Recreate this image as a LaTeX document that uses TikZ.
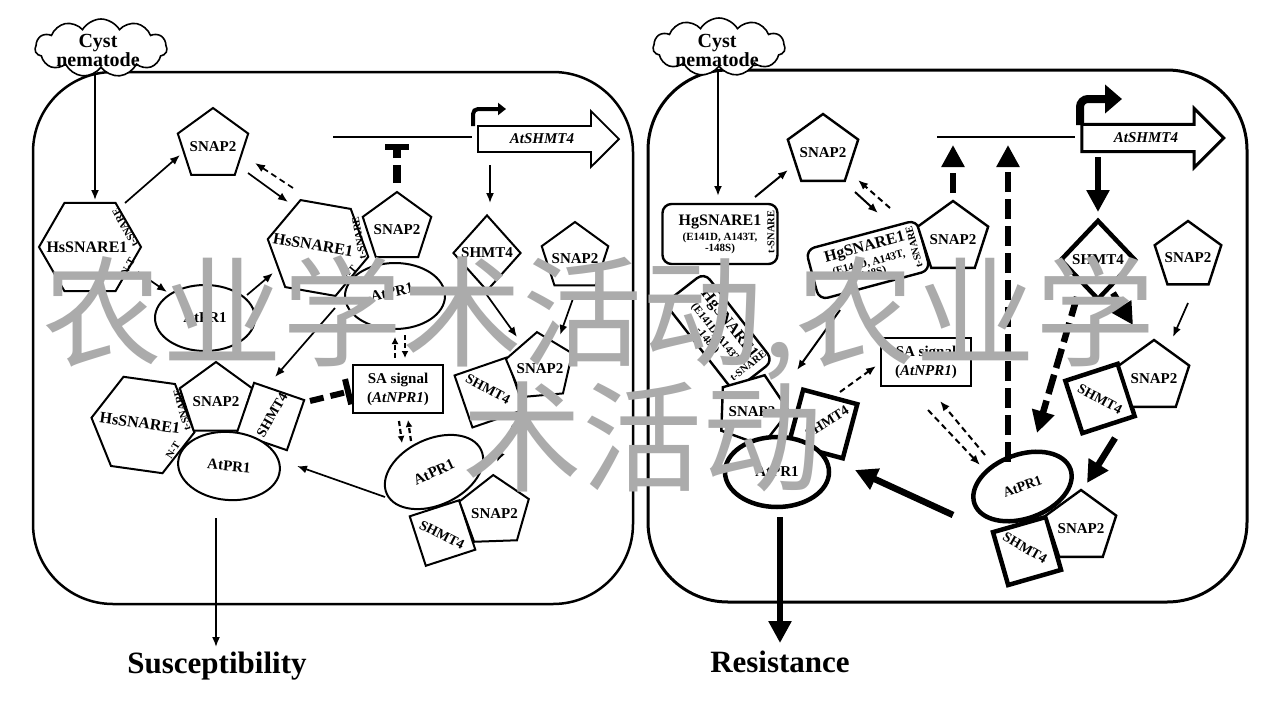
\documentclass[tikz,border=0pt]{standalone}
\usepackage{fontspec}
\setmainfont{Liberation Serif}
\newfontfamily\cjkfont{Noto Sans CJK SC}
\usetikzlibrary{shapes.geometric,shapes.symbols,shapes.arrows,arrows.meta}
\definecolor{wmgray}{HTML}{ABABAB}
\newcommand\fsnap{\fontsize{15}{15}\selectfont\bfseries}
\newcommand\fhs{\fontsize{16}{16}\selectfont\bfseries}
\newcommand\fsq{\fontsize{14}{14}\selectfont\bfseries}
\newcommand\ftag{\fontsize{10.5}{10.5}\selectfont\bfseries}
\newcommand\fmut{\fontsize{11}{11}\selectfont\bfseries}
\newcommand\fhg{\fontsize{16}{16}\selectfont\bfseries}
\newcommand\fsa{\fontsize{15}{19}\selectfont\bfseries}
\newcommand\fcloud{\fontsize{20}{19}\selectfont\bfseries}
\newcommand\fbig{\fontsize{31}{31}\selectfont\bfseries}
\newcommand\fwm{\fontsize{120}{120}\selectfont\cjkfont}
\newcommand\hgtext{{\fhg HgSNARE1}\\[3pt](E141D, A143T,\\-148S)}
\tikzset{
  cell/.style = {draw, rounded corners=80pt, line width=2.5pt},
  pathogen/.style = {cloud, cloud puffs=11, cloud puff arc=120, cloud ignores aspect, draw, fill=white, minimum width=132pt, minimum height=58pt, inner sep=0pt, line width=1.6pt},
  cloudtxt/.style = {inner sep=0pt, align=center, font=\fcloud},
  pent/.style = {regular polygon, regular polygon sides=5, draw, fill=white, minimum size=74pt, inner sep=0pt, label={[font=\fsnap, inner sep=0pt, yshift=-2pt]center:#1}},
  hexa/.style = {regular polygon, regular polygon sides=6, draw, fill=white, minimum size=102pt, inner sep=0pt},
  hstxt/.style = {inner sep=0pt, font=\fhs},
  prot/.style = {ellipse, draw, fill=white, minimum width=100pt, minimum height=66pt, inner sep=0pt, font=\fsnap},
  sqr/.style = {rectangle, draw, fill=white, minimum size=54pt, inner sep=0pt},
  sqtxt/.style = {inner sep=0pt, font=\fsq},
  dia/.style = {diamond, draw, fill=white, minimum width=68pt, minimum height=76pt, inner sep=0pt, font=\fsnap},
  hgbox/.style = {rectangle, rounded corners=9pt, draw, fill=white, minimum width=115pt, minimum height=60pt, inner sep=0pt, align=center, font=\fmut},
  sabox/.style = {rectangle, draw, fill=white, minimum width=90pt, minimum height=48pt, inner sep=0pt, line width=1.8pt, align=center, font=\fsa},
  gene/.style = {single arrow, draw, fill=white, single arrow head extend=15pt, single arrow tip angle=90, minimum height=141pt, inner xsep=0pt, inner ysep=7pt, line width=1.8pt, font=\fsnap},
  tag/.style = {inner sep=0pt, font=\ftag},
  outcome/.style = {inner sep=0pt, font=\fbig},
  heavy/.style = {line width=4.5pt},
  arr/.style = {-{Latex[length=10pt,width=8pt]}, line width=1.7pt},
  darr/.style = {arr, dash pattern=on 6pt off 4pt},
  sdarr/.style = {-{Latex[length=7pt,width=7pt]}, line width=2.2pt, dash pattern=on 5pt off 3pt},
  fat/.style = {-{Triangle[length=22pt,width=22pt]}, line width=6.5pt},
  fatdash/.style = {fat, dash pattern=on 20pt off 7pt},
  inhib/.style = {-{Bar[width=24pt,line width=6pt]}, line width=8pt, dash pattern=on 18pt off 7pt},
  inhibs/.style = {-{Bar[width=26pt,line width=6pt]}, line width=6pt, dash pattern=on 14pt off 7pt},
  watermark/.style = {anchor=base west, inner sep=0pt, text=wmgray, font=\fwm}
}
\begin{document}
\begin{tikzpicture}[x=1pt,y=-1pt]
\useasboundingbox (0,0) rectangle (1280,720);
\fill[white] (0,0) rectangle (1280,720);

% left cell: susceptible host
\draw[cell] (33,72) rectangle (633,604);
\node[pathogen] (nemaL) at (101,48) {};
\node[cloudtxt] (nemaLt) at (98,50) {Cyst\\nematode};

\begin{scope}[line width=2pt]
\node[hexa] (hsA) at (90,247) {};
\node[hstxt] (hsAl) at (87,247) {HsSNARE1};
\node[tag, rotate=119] (hsAt) at (125,228) {t-SNARE};
\node[tag, rotate=60] (hsAn) at (128,267) {N-T};
\node[pent=SNAP2] (snapA) at (213,145) {};
\node[prot] (prA) at (205,318) {AtPR1};

\node[prot] (prB) at (395,296) {};
\node[tag, font=\fsnap, rotate=12] (prBt) at (392,292) {AtPR1};
\node[hexa, rotate=-10] (hsB) at (318,248) {};
\node[hstxt, rotate=-10] (hsBl) at (313,245) {HsSNARE1};
\node[tag, rotate=100] (hsBt) at (359,238) {t-SNARE};
\node[tag, rotate=50] (hsBn) at (349,274) {N-T};
\node[pent=SNAP2, minimum size=72pt] (snapB) at (397,228) {};

\coordinate (dnaL) at (333,137);
\coordinate (tbarL) at (397,144);
\node[gene] (geneL) at (542,139) {\textit{AtSHMT4}};
\node[dia] (diaL) at (487,253) {SHMT4};
\node[pent=SNAP2, minimum size=70pt] (snapD) at (575,257) {};

\node[sqr, rotate=19, minimum size=55pt] (sqE) at (489.5,392.5) {};
\node[sqtxt, rotate=-28] (sqEt) at (488,389) {SHMT4};
\node[pent=SNAP2, minimum size=70pt, shape border rotate=5] (snapE) at (540,367) {};

\node[sabox] (saL) at (398,389) {SA signal\\(\textit{AtNPR1})};

\node[hexa, rotate=-8, minimum size=104pt] (hsC) at (143,425) {};
\node[hstxt, rotate=-8] (hsCl) at (140,423) {HsSNARE1};
\node[tag, rotate=105] (hsCt) at (182,410) {t-SNARE};
\node[tag, rotate=58] (hsCn) at (173,450) {N-T};
\node[pent=SNAP2, minimum size=76pt] (snapC) at (216,400) {};
\node[sqr, rotate=-19, minimum size=53pt] (sqC) at (270.5,416.5) {};
\node[sqtxt, rotate=60] (sqCt) at (272,415) {SHMT4};
\node[prot, rotate=-5, minimum width=102pt, minimum height=68pt] (prC) at (229,466) {AtPR1};

\node[sqr, rotate=18, minimum size=52pt] (sqF) at (442.5,533) {};
\node[sqtxt, rotate=-27] (sqFt) at (442,535) {SHMT4};
\node[pent=SNAP2, minimum size=73pt, shape border rotate=2] (snapF) at (494.5,511.5) {};
\node[prot, rotate=25, minimum width=104pt] (prF) at (434,472) {AtPR1};
\end{scope}

\node[outcome, anchor=base] (susc) at (217,673) {Susceptibility};

\draw[line width=1.5pt] (dnaL) -- ([shift={(-70,-2)}]geneL.center);
\draw[line width=4pt, rounded corners=5pt, -{Triangle[length=8pt,width=12pt]}] ([shift={(-69,-13)}]geneL.center) -- ++(0,-17) -- ++(33,0);
\draw[arr] ([shift={(-6,25)}]nemaL.center) -- ([shift={(5,-47)}]hsA.center);
\draw[arr] ([shift={(35,-44)}]hsA.center) -- ([shift={(-33,10)}]snapA.center);
\draw[arr] ([shift={(35,28)}]snapA.center) -- ([shift={(-30,-46)}]hsB.center);
\draw[darr] ([shift={(-25,-60)}]hsB.center) -- ([shift={(42,18)}]snapA.center);
\draw[arr] ([shift={(48,25)}]hsA.center) -- ([shift={(-38,-26)}]prA.center);
\draw[arr] ([shift={(42,-23)}]prA.center) -- ([shift={(-45,25)}]hsB.center);
\draw[arr] ([shift={(17,60)}]hsB.center) -- ([shift={(4.5,-39.5)}]sqC.center);
\draw[inhib] ([shift={(0,-45)}]snapB.center) -- (tbarL);
\draw[arr] ([shift={(-52,26)}]geneL.center) -- ([shift={(3,-50)}]diaL.center);
\draw[arr] ([shift={(-3,38)}]diaL.center) -- ([shift={(-23,-30)}]snapE.center);
\draw[arr] ([shift={(0,36)}]snapD.center) -- ([shift={(20,-32)}]snapE.center);
\draw[sdarr] ([shift={(-3,-31)}]saL.center) -- ([shift={(0,41)}]prB.center);
\draw[sdarr] ([shift={(10,39)}]prB.center) -- ([shift={(7,-31)}]saL.center);
\draw[sdarr] ([shift={(1,32)}]saL.center) -- ([shift={(-32,-29)}]prF.center);
\draw[sdarr] ([shift={(-23,-31)}]prF.center) -- ([shift={(10,31)}]saL.center);
\draw[inhibs] ([shift={(39.5,-15.5)}]sqC.center) -- ([shift={(-47,2)}]saL.center);
\draw[arr] ([shift={(23.5,32.5)}]sqE.center) -- ([shift={(63,-10)}]prF.center);
\draw[arr] ([shift={(-49,25)}]prF.center) -- ([shift={(68,0)}]prC.center);
\draw[arr] ([shift={(-13,52)}]prC.center) -- ([shift={(-1,-26)}]susc.base);

% right cell: resistant host
\draw[cell, line width=3pt] (648,70) rectangle (1247,602);
\node[pathogen] (nemaR) at (719,47) {};
\node[cloudtxt] (nemaRt) at (717,50) {Cyst\\nematode};

\begin{scope}[line width=2.4pt]
\node[hgbox] (hgA) at (720,234) {\hgtext};
\node[tag, rotate=90] (hgAt) at (771,232) {t-SNARE};
\node[pent=SNAP2] (snapG) at (823,151) {};

\node[hgbox, rotate=15, minimum height=52pt] (hgB) at (868,260) {\hgtext};
\node[pent=SNAP2] (snapH) at (953,238) {};
\node[tag, rotate=105] (hgBt) at (914,247) {t-SNARE};

\coordinate (dnaR) at (937,137);
\coordinate (siteA) at (953,145);
\coordinate (siteB) at (1008,145);
\node[gene, line width=3pt, minimum height=142pt, single arrow head extend=16pt] (geneR) at (1146,138) {\textit{AtSHMT4}};
\node[dia, heavy, minimum width=76pt, minimum height=80pt] (diaR) at (1098,260) {SHMT4};
\node[pent=SNAP2, minimum size=70pt] (snapI) at (1188,256) {};

\node[sqr, heavy, rotate=18, minimum size=55pt] (sqJ) at (1100,398.5) {};
\node[sqtxt, rotate=-28] (sqJt) at (1100,399) {SHMT4};
\node[pent=SNAP2] (snapJ) at (1154,377) {};

\node[sqr, heavy, rotate=16, minimum size=55pt] (sqK) at (1027,551) {};
\node[sqtxt, rotate=-30] (sqKt) at (1025,548) {SHMT4};
\node[pent=SNAP2] (snapK) at (1081,527) {};
\node[prot, heavy, rotate=20, minimum width=102pt, minimum height=64pt, font=\fsq] (prK) at (1022.5,486.5) {AtPR1};

\node[sabox] (saR) at (926,362) {SA signal\\(\textit{AtNPR1})};

\node[hgbox, rotate=-52, minimum width=112pt, minimum height=50pt] (hgC) at (719,332) {\hgtext};
\node[tag, rotate=38] (hgCt) at (748,366) {t-SNARE};
\node[pent=SNAP2, shape border rotate=-20] (snapL) at (752,410) {};
\node[sqr, heavy, rotate=-15, minimum size=56pt] (sqL) at (823,424) {};
\node[sqtxt, rotate=32] (sqLt) at (827,422) {SHMT4};
\node[prot, heavy, minimum width=104pt, minimum height=70pt] (prL) at (777,472) {AtPR1};
\end{scope}

\node[outcome, anchor=base] (resist) at (780,672) {Resistance};

\draw[line width=1.5pt] (dnaR) -- ([shift={(-71,-1)}]geneR.center);
\draw[line width=8pt, rounded corners=8pt, -{Triangle[length=17pt,width=28pt]}] ([shift={(-66,-13)}]geneR.center) -- ++(0,-26) -- ++(42,0);
\draw[arr, line width=2pt] ([shift={(-1,25)}]nemaR.center) -- ([shift={(-2,-38)}]hgA.center);
\draw[arr, line width=2pt] ([shift={(35,-37)}]hgA.center) -- ([shift={(-35,19)}]snapG.center);
\draw[arr, line width=2pt] ([shift={(32,41)}]snapG.center) -- ([shift={(10,-47)}]hgB.center);
\draw[darr, line width=2pt] ([shift={(22,-52)}]hgB.center) -- ([shift={(35,29)}]snapG.center);
\draw[fatdash] ([shift={(0,-45)}]snapH.center) -- (siteA);
\draw[fatdash] ([shift={(-14.5,-24.5)}]prK.center) -- (siteB);
\draw[fat] ([shift={(-48,19)}]geneR.center) -- ([shift={(0,-48)}]diaR.center);
\draw[fat] ([shift={(15,33)}]diaR.center) -- ([shift={(-21,-52)}]snapJ.center);
\draw[fatdash] ([shift={(-21,37)}]diaR.center) -- ([shift={(14.5,-53.5)}]prK.center);
\draw[arr] ([shift={(0,47)}]snapI.center) -- ([shift={(19,-40)}]snapJ.center);
\draw[fat] ([shift={(15,39.5)}]sqJ.center) -- ([shift={(6,-44)}]snapK.center);
\draw[arr, line width=2pt] ([shift={(-28,50)}]hgB.center) -- ([shift={(45,-40)}]snapL.center);
\draw[darr, line width=2pt] ([shift={(17,-32)}]sqL.center) -- ([shift={(-50,4)}]saR.center);
\draw[darr, line width=2pt] ([shift={(-37.5,-31.5)}]prK.center) -- ([shift={(14,39)}]saR.center);
\draw[darr, line width=2pt] ([shift={(2,48)}]saR.center) -- ([shift={(-42.5,-21.5)}]prK.center);
\draw[fat] ([shift={(-69.5,28.5)}]prK.center) -- ([shift={(78,-2)}]prL.center);
\draw[fat] ([shift={(3,45)}]prL.center) -- ([shift={(0,-29)}]resist.base);

% watermark over the figure
\node[watermark] (wmA) at (42,357) {农业学术活动,农业学};
\node[watermark] (wmB) at (462,482) {术活动};
\end{tikzpicture}
\end{document}
